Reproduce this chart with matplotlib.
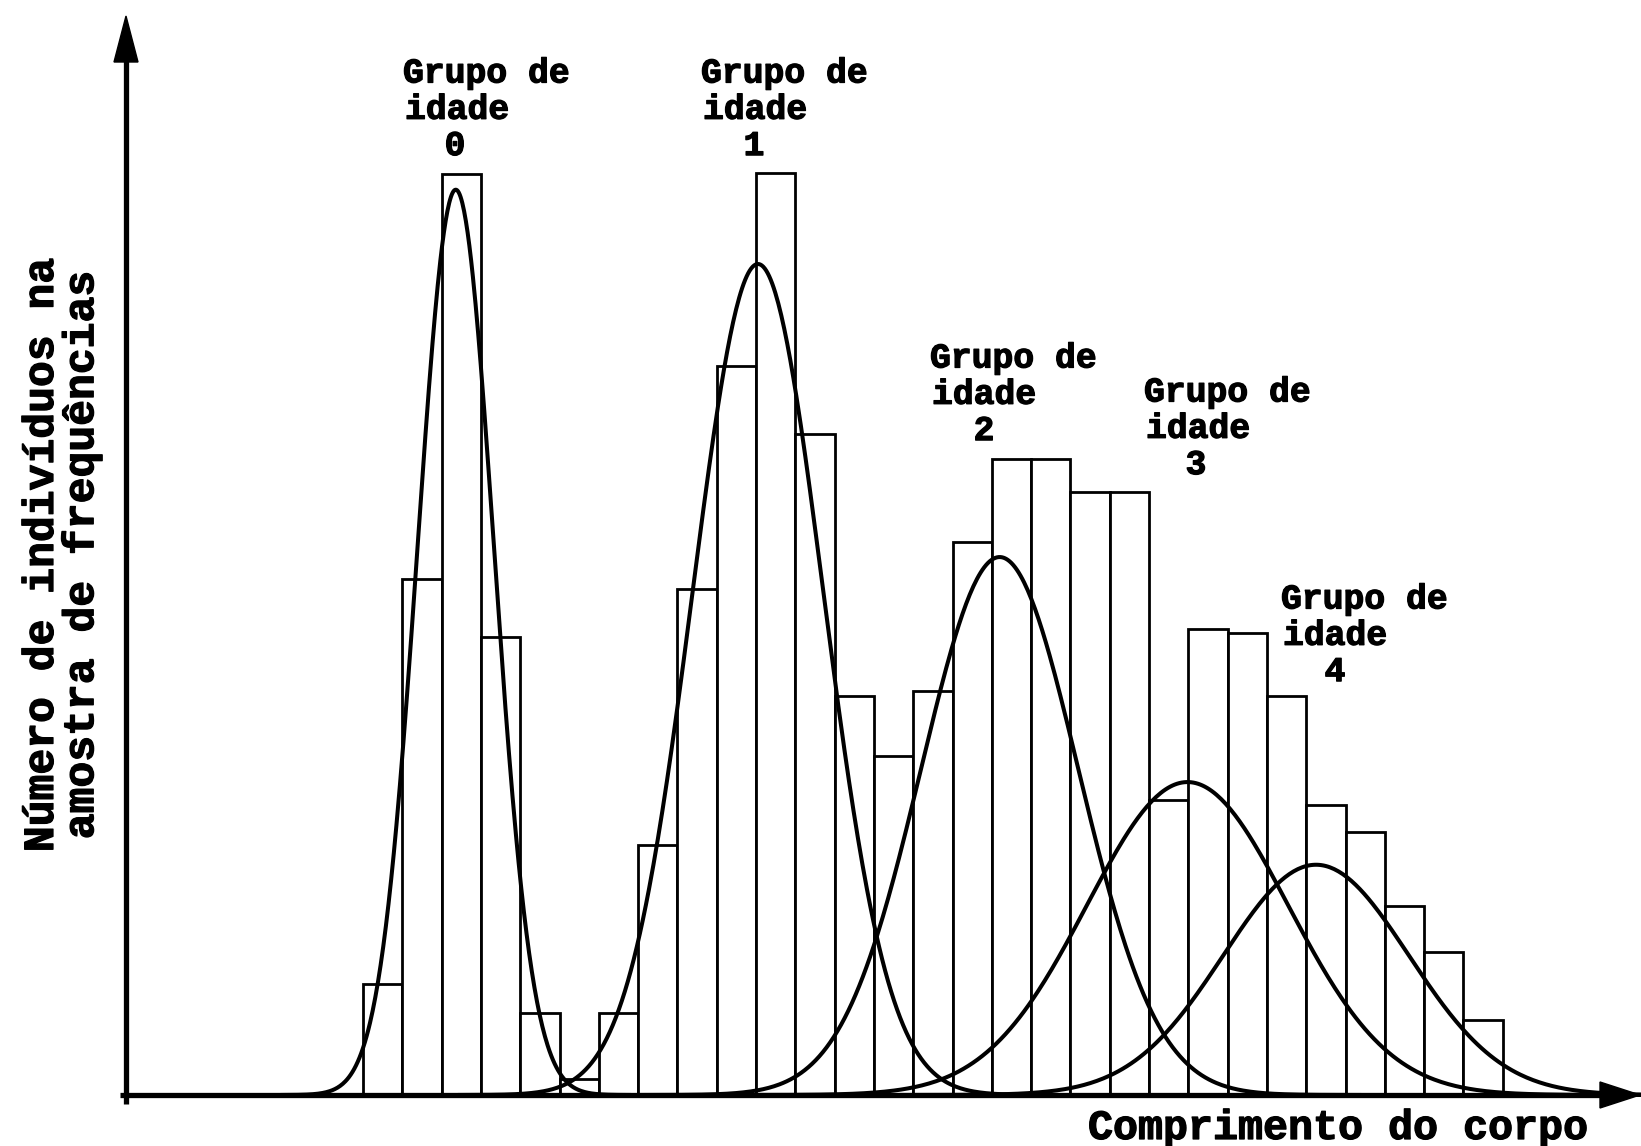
import numpy as np
import matplotlib
matplotlib.use("Agg")
import matplotlib.pyplot as plt
from matplotlib.patches import Polygon
import matplotlib.patheffects as pe

# ---- data (length classes = consecutive bins, counts) ----
bin_index = list(range(29))
counts = [10.6, 49.3, 88.0, 43.8, 7.8, 1.5, 7.8, 23.9, 48.3, 69.7, 88.1, 63.2,
          38.1, 32.4, 38.6, 52.8, 60.8, 60.8, 57.6, 57.6, 28.2, 44.5, 44.1,
          38.1, 27.7, 25.1, 18.1, 13.7, 7.2]

group_names = ["0", "1", "2", "3", "4"]
group_means = [2.36, 10.05, 16.2, 20.98, 24.25]
group_sds = [0.97, 1.66, 2.0, 2.56, 2.36]
group_peaks = [86.5, 79.4, 51.4, 29.9, 22.0]

xlabel = "Comprimento do corpo"
ylabel_lines = ["Número de indivíduos na", "amostra de frequências"]

# ---- figure ----
W, H = 1641, 1146
fig = plt.figure(figsize=(W / 100, H / 100), dpi=100)
ax = fig.add_axes([0, 0, 1, 1])

# pixel <-> data mapping (layout)
x0_px, bin_px = 363.0, 39.3
base_px, unit_px = 1095.0, 10.466
ax.set_xlim(-x0_px / bin_px, (W - x0_px) / bin_px)
ax.set_ylim(-(H - base_px) / unit_px, base_px / unit_px)
ax.axis("off")

def dx(px):
    return (px - x0_px) / bin_px

def dy(py):
    return (base_px - py) / unit_px

# bars
ax.bar(bin_index, counts, width=1.0, align="edge", facecolor="white",
       edgecolor="black", linewidth=2.0, zorder=1)

# normal curves
for m, s, p in zip(group_means, group_sds, group_peaks):
    xs = np.linspace(m - 4.6 * s, m + 4.6 * s, 400)
    ys = p * np.exp(-0.5 * ((xs - m) / s) ** 2)
    ax.plot(xs, ys, color="black", lw=2.9, zorder=2, solid_capstyle="round")

# axes with arrows
yax_x = dx(126)
ax.plot([yax_x, yax_x], [dy(1104), dy(60)], color="black", lw=3.8, zorder=3,
        solid_capstyle="butt")
ax.add_patch(Polygon([[dx(126 - 12), dy(62)], [dx(126 + 12), dy(62)],
                      [dx(126), dy(16)]], closed=True, color="black", zorder=3))
ax.plot([dx(120), dx(1605)], [0, 0], color="black", lw=3.8, zorder=3,
        solid_capstyle="butt")
ax.add_patch(Polygon([[dx(1600), dy(1095 - 13)], [dx(1600), dy(1095 + 13)],
                      [dx(1640), dy(1095)]], closed=True, color="black", zorder=3))

# text
font = dict(family=["Liberation Mono", "DejaVu Sans Mono"], fontweight="bold",
            color="black",
            path_effects=[pe.withStroke(linewidth=0.9, foreground="black")])

def ftxt(xp, yp, s, size, ha="left", rot=0):
    fig.text(xp / W, 1 - yp / H, s, ha=ha, va="center", fontsize=size,
             rotation=rot, **font)

label_pos = [  # (left x of lines, y of first line, x of number) in pixels
    (403, 73, 455),
    (701, 73, 754),
    (930, 358, 984),
    (1144, 392, 1196),
    (1281, 599, 1335),
]
gap = 36.3
for name, (lx, ly, nx) in zip(group_names, label_pos):
    ftxt(lx, ly, "Grupo de", 25)
    ftxt(lx + 2, ly + gap, "idade", 25)
    ftxt(nx, ly + 2 * gap, name, 25, ha="center")

ftxt(1338, 1128, xlabel, 30, ha="center")
ftxt(42, 556, ylabel_lines[0], 31, ha="center", rot=90)
ftxt(82, 556, ylabel_lines[1], 31, ha="center", rot=90)

fig.savefig("out.png", dpi=100, facecolor="white")
